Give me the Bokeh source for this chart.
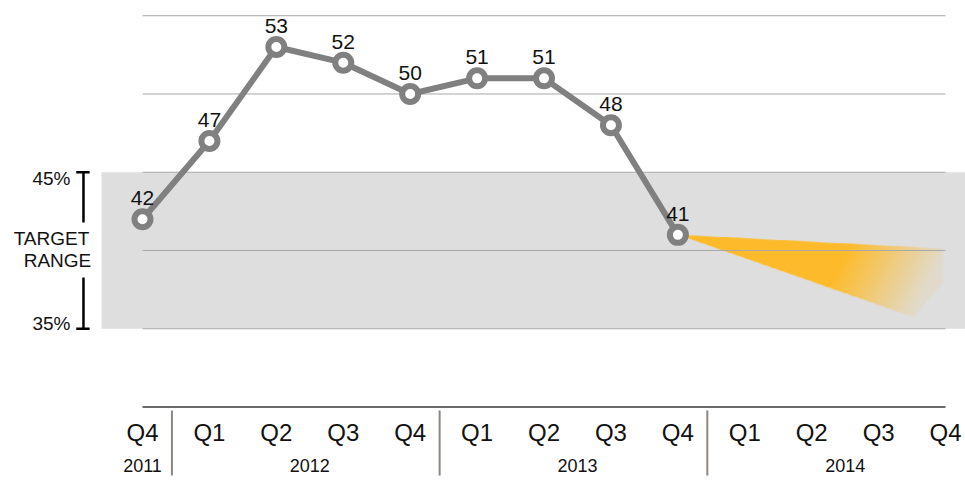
import numpy as np
from bokeh.plotting import figure
from bokeh.models import Range1d
from bokeh.core.properties import value
from bokeh.embed import file_html
from bokeh.resources import INLINE

# ---------------- data ----------------
quarters = ["Q4", "Q1", "Q2", "Q3", "Q4", "Q1", "Q2", "Q3", "Q4", "Q1", "Q2", "Q3", "Q4"]
years = ["2011", "2012", "2013", "2014"]
year_quarter_counts = [1, 4, 4, 4]
values = [42, 47, 53, 52, 50, 51, 51, 48, 41]
gridlines = [55, 50, 45, 40, 35]
target_low = 35
target_high = 45
target_labels = ["45%", "35%"]
# forecast cone (start value, end high, end low)
forecast_start = 41
forecast_high_end = 40.1
forecast_low_end = 35.0

FONT = "Liberation Sans"
GRAY = "#808080"
BAND = "#DEDEDE"
ORANGE = (253, 187, 43)
TXT = "#111111"

# pixel geometry helpers (px per unit)
SX = 66.92
SY = 15.65

p = figure(width=965, height=482, output_backend="svg", toolbar_location=None,
           x_range=Range1d(-2.1219, 12.298), y_range=Range1d(25.176, 55.974),
           min_border=0)
p.axis.visible = False
p.grid.visible = False
p.outline_line_color = None
p.background_fill_color = "white"

n = len(quarters)
xs = list(range(n))
last = n - 1

# target band
p.quad(left=[-0.613], right=[13], bottom=[target_low], top=[target_high],
       fill_color=BAND, line_color=None)

# forecast cone as anti-aliased gradient image
fi = len(values) - 1
nx, ny = 536, 240
x0, x1 = fi, last
y0, y1 = forecast_low_end - 0.3, forecast_start + 0.3
gx = np.linspace(x0, x1, nx)
gy = np.linspace(y0, y1, ny)
X, Y = np.meshgrid(gx, gy)
span = last - fi
upper = forecast_start + (X - fi) * (forecast_high_end - forecast_start) / span
lower = forecast_start + (X - fi) * (forecast_low_end - forecast_start) / span
xpx = 142 + SX * X
ypx = 250 - SY * (Y - 40)
d_up = (upper - Y) * SY
d_low = (Y - lower) * SY * 0.94
d_right = 942 - xpx
d_corner = ((317 - (xpx - 913) * (35.0 / 29.0)) - ypx) * 0.64
d = np.minimum(np.minimum(d_up, d_low), np.minimum(d_right, d_corner))
cover = np.clip(d + 0.5, 0.0, 1.0)
s = xpx + 0.5 * (ypx - 250)
alpha = np.clip(1 - (s - 848) / 108.0, 0.1, 1.0) * cover
img = np.zeros((ny, nx), dtype=np.uint32)
view = img.view(dtype=np.uint8).reshape((ny, nx, 4))
view[:, :, 0] = ORANGE[0]
view[:, :, 1] = ORANGE[1]
view[:, :, 2] = ORANGE[2]
view[:, :, 3] = (alpha * 255).astype(np.uint8)
p.image_rgba(image=[img], x=x0, y=y0, dw=x1 - x0, dh=y1 - y0)

# gridlines
for g in gridlines:
    p.line([0, last], [g, g], line_color="#A8A8A8", line_width=1)

# bottom axis line
p.line([0, last], [30, 30], line_color="#3A3A3A", line_width=1.5)

# main line + markers
vx = list(range(len(values)))
p.line(vx, values, line_color=GRAY, line_width=6)
p.scatter(vx, values, size=16, fill_color="white", line_color=GRAY, line_width=6)

# data labels
p.text(vx, values, text=[str(v) for v in values], text_align="center",
       text_baseline="bottom", y_offset=-14, text_font=value(FONT),
       text_font_size="21px", text_color=TXT)

# quarter labels
p.text(xs, [28.37] * n, text=quarters, text_align="center", text_baseline="middle",
       text_font=value(FONT), text_font_size="24px", text_color=TXT)

# year labels and separators
start = 0
centers = []
seps = []
for c in year_quarter_counts:
    centers.append(start + (c - 1) / 2)
    start += c
    if start < n:
        seps.append(start - 0.56)
p.text(centers, [26.26] * len(years), text=years, text_align="center",
       text_baseline="middle", text_font=value(FONT), text_font_size="18px",
       text_color=TXT)
p.segment(x0=seps, y0=[29.78] * len(seps), x1=seps, y1=[25.62] * len(seps),
          line_color="#8C8782", line_width=2)

# target range annotation
bx = -0.882
p.segment(x0=[bx, bx], y0=[target_high, 38.27], x1=[bx, bx], y1=[41.79, target_low],
          line_color="black", line_width=2.5)
p.segment(x0=[-0.99, -0.99], y0=[target_high, target_low], x1=[-0.79, -0.79],
          y1=[target_high, target_low], line_color="black", line_width=2.5)
p.text([-1.076, -1.076], [44.6, 35.34], text=target_labels, text_align="right",
       text_baseline="middle", text_font=value(FONT), text_font_size="19px",
       text_color=TXT)
p.text([-1.36, -1.27], [40.77, 39.36], text=["TARGET", "RANGE"], text_align="center",
       text_baseline="middle", text_font=value(FONT), text_font_size="19px",
       text_color=TXT)

open("out.html", "w").write(file_html(p, INLINE))
